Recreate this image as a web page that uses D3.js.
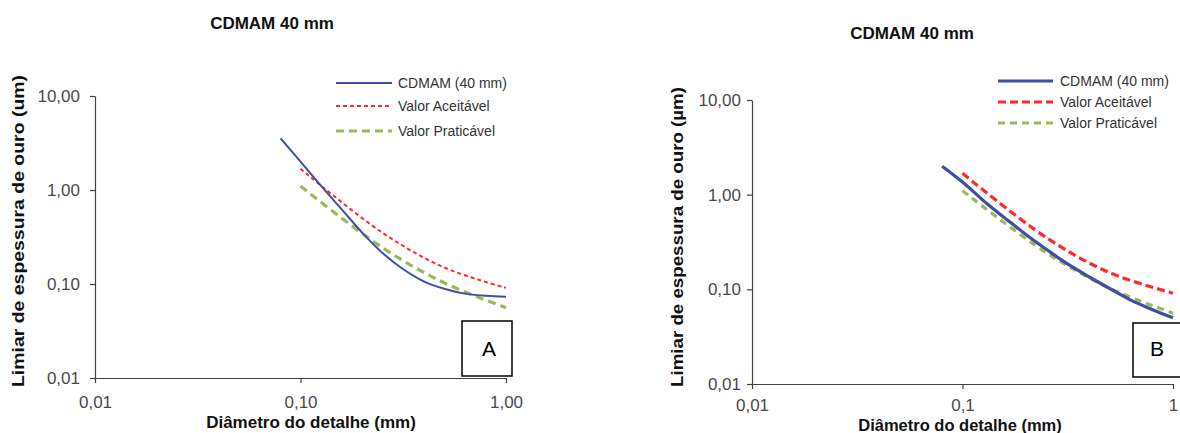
<!DOCTYPE html>
<html>
<head>
<meta charset="utf-8">
<script src="https://cdn.jsdelivr.net/npm/d3@7"></script>
<style>
  html, body { margin: 0; padding: 0; background: #fff; }
  svg { display: block; font-family: "Liberation Sans", Arial, sans-serif; }
</style>
</head>
<body>
<svg id="chart" width="1180" height="433"></svg>
<script>
// ---- data ----
const chartTitle = "CDMAM 40 mm";
const xAxisTitle = "Diâmetro do detalhe (mm)";
const yAxisTitleA = "Limiar de espessura de ouro  (um)";
const yAxisTitleB = "Limiar de espessura de ouro (µm)";
const seriesNames = ["CDMAM (40 mm)", "Valor Aceitável", "Valor Praticável"];
const panelLabels = ["A", "B"];

const cdmamDiameters = [0.08, 0.10, 0.13, 0.16, 0.20, 0.25, 0.31, 0.40, 0.50, 0.63, 0.80, 1.00];
const cdmamA = [3.55, 2.00, 1.02, 0.61, 0.35, 0.215, 0.148, 0.106, 0.089, 0.079, 0.075, 0.073];
const cdmamB = [2.00, 1.36, 0.81, 0.56, 0.38, 0.265, 0.19, 0.135, 0.102, 0.077, 0.061, 0.050];

const limitDiameters = [0.10, 0.25, 0.50, 1.00];
const aceitavel = [1.68, 0.352, 0.150, 0.091];
const praticavel = [1.10, 0.244, 0.103, 0.056];

const yTicks = [0.01, 0.1, 1, 10];
const yTickLabels = ["0,01", "0,10", "1,00", "10,00"];
const xTicks = [0.01, 0.1, 1];
const xTickLabelsA = ["0,01", "0,10", "1,00"];
const xTickLabelsB = ["0,01", "0,1", "1"];

// ---- layout / styles ----
const colors = { blue: "#3f4fa5", red: "#ff2b2b", green: "#9bbb59", axis: "#404040" };
const svg = d3.select("#chart");

const panels = [
  {
    x: [95, 506], y: [378, 96], cdmam: cdmamA, xLabels: xTickLabelsA, yTitle: yAxisTitleA,
    title: [272, 23], yTitlePos: [18, 231], yTitleLen: 312, xTitlePos: [311, 422], yPad: 10, xPad: 13,
    xTitleSize: 17,
    legend: { x1: 336, x2: 392, tx: 398, rows: [83, 106, 131] },
    styles: [
      { w: 2, dash: null },
      { w: 2, dash: "4,3" },
      { w: 3.2, dash: "8,5" }
    ],
    box: { x: 462, y: 321, w: 50, h: 55, tx: 489, ty: 348 }, label: panelLabels[0]
  },
  {
    x: [752, 1173], y: [384, 100], cdmam: cdmamB, xLabels: xTickLabelsB, yTitle: yAxisTitleB,
    title: [912, 33], yTitlePos: [677, 237], yTitleLen: 300, xTitlePos: [960, 425], yPad: 6, xPad: 10,
    xTitleSize: 16.5,
    legend: { x1: 998, x2: 1053, tx: 1060, rows: [81, 102, 123] },
    styles: [
      { w: 3.2, dash: null },
      { w: 3.2, dash: "8,4" },
      { w: 3.2, dash: "7,5" }
    ],
    box: { x: 1133, y: 323, w: 60, h: 54, tx: 1157, ty: 348 }, label: panelLabels[1]
  }
];

panels.forEach(p => {
  const x = d3.scaleLog().domain([0.01, 1]).range(p.x);
  const y = d3.scaleLog().domain([0.01, 10]).range(p.y);
  const g = svg.append("g");

  // axes
  const yAxis = d3.axisLeft(y).tickValues(yTicks)
    .tickFormat((d, i) => yTickLabels[i]).tickSize(5).tickSizeOuter(0).tickPadding(p.yPad);
  const xAxis = d3.axisBottom(x).tickValues(xTicks)
    .tickFormat((d, i) => p.xLabels[i]).tickSize(5).tickSizeOuter(0).tickPadding(p.xPad);

  const ga = g.append("g").attr("transform", `translate(${p.x[0]},0)`).call(yAxis);
  const gx = g.append("g").attr("transform", `translate(0,${p.y[0]})`).call(xAxis);
  [ga, gx].forEach(a => {
    a.select(".domain").attr("stroke", colors.axis).attr("stroke-width", 1.2);
    a.selectAll(".tick line").attr("stroke", colors.axis).attr("stroke-width", 1.2);
    a.selectAll(".tick text").attr("fill", "#4a4a4a")
      .style("font-size", "17px").style("font-family", "'Liberation Sans', Arial, sans-serif");
  });

  // series
  const line = d3.line().x(d => x(d[0])).y(d => y(d[1])).curve(d3.curveCatmullRom.alpha(0.5));
  const series = [
    { data: cdmamDiameters.map((d, i) => [d, p.cdmam[i]]), color: colors.blue },
    { data: limitDiameters.map((d, i) => [d, aceitavel[i]]), color: colors.red },
    { data: limitDiameters.map((d, i) => [d, praticavel[i]]), color: colors.green }
  ];
  [2, 1, 0].forEach(k => {
    const s = series[k], st = p.styles[k];
    g.append("path").datum(s.data).attr("d", line)
      .attr("fill", "none").attr("stroke", s.color).attr("stroke-width", st.w)
      .attr("stroke-dasharray", st.dash);
  });

  // legend
  seriesNames.forEach((name, k) => {
    const st = p.styles[k];
    const yy = p.legend.rows[k];
    g.append("line").attr("x1", p.legend.x1).attr("x2", p.legend.x2)
      .attr("y1", yy).attr("y2", yy)
      .attr("stroke", series[k].color).attr("stroke-width", st.w)
      .attr("stroke-dasharray", st.dash);
    g.append("text").attr("x", p.legend.tx).attr("y", yy)
      .attr("dominant-baseline", "central").attr("fill", "#333")
      .style("font-size", "14px").text(name);
  });

  // titles
  g.append("text").attr("x", p.title[0]).attr("y", p.title[1])
    .attr("text-anchor", "middle").attr("dominant-baseline", "central")
    .style("font-size", "17px").style("font-weight", "bold").attr("fill", "#111")
    .text(chartTitle);
  g.append("text").attr("x", p.xTitlePos[0]).attr("y", p.xTitlePos[1])
    .attr("text-anchor", "middle").attr("dominant-baseline", "central")
    .style("font-size", p.xTitleSize + "px").style("font-weight", "bold").attr("fill", "#111")
    .text(xAxisTitle);
  g.append("text")
    .attr("transform", `translate(${p.yTitlePos[0]},${p.yTitlePos[1]}) rotate(-90)`)
    .attr("text-anchor", "middle").attr("dominant-baseline", "central")
    .attr("textLength", p.yTitleLen).attr("lengthAdjust", "spacingAndGlyphs")
    .style("font-size", "17px").style("font-weight", "bold").attr("fill", "#111")
    .text(p.yTitle);

  // panel label box
  g.append("rect").attr("x", p.box.x).attr("y", p.box.y)
    .attr("width", p.box.w).attr("height", p.box.h)
    .attr("fill", "#fff").attr("stroke", "#000").attr("stroke-width", 1.5);
  g.append("text").attr("x", p.box.tx).attr("y", p.box.ty)
    .attr("text-anchor", "middle").attr("dominant-baseline", "central")
    .style("font-size", "21px").attr("fill", "#000").text(p.label);
});
</script>
</body>
</html>
